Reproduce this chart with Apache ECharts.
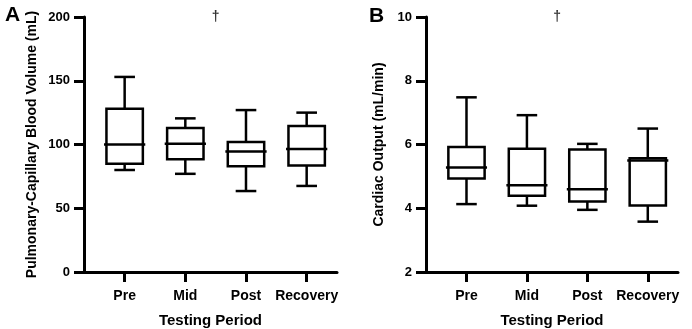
<!DOCTYPE html>
<html>
<head>
<meta charset="utf-8">
<script src="https://cdn.jsdelivr.net/npm/echarts@6/dist/echarts.min.js"></script>
<style>
  html, body { margin: 0; padding: 0; background: #fff; }
  #chart { width: 692px; height: 329px; }
</style>
</head>
<body>
<div id="chart"></div>
<script>
const categories = ['Pre', 'Mid', 'Post', 'Recovery']
const catIndex = [0, 1, 2, 3]

// Panel A - pulmonary-capillary blood volume (mL)
const pcbvMin = [80, 77, 63.5, 67.5]
const pcbvQ1 = [85, 88.5, 83, 83.5]
const pcbvMedian = [100, 100.5, 94.5, 96.5]
const pcbvQ3 = [128, 113, 102, 114.5]
const pcbvMax = [153, 120.5, 127, 125]

// Panel B - cardiac output (mL/min)
const coMin = [4.13, 4.08, 3.95, 3.58]
const coQ1 = [4.93, 4.39, 4.21, 4.09]
const coMedian = [5.28, 4.72, 4.6, 5.5]
const coQ3 = [5.92, 5.87, 5.84, 5.57]
const coMax = [7.48, 6.92, 6.02, 6.5]

const font = 'Arial, "Liberation Sans", sans-serif'

function boxData(mn, q1, md, q3, mx) {
  return catIndex.map(i => [i, mn[i], q1[i], md[i], q3[i], mx[i]])
}

function renderBox(params, api) {
  const x = api.value(0)
  const lo = api.coord([x, api.value(1)])
  const q1 = api.coord([x, api.value(2)])
  const md = api.coord([x, api.value(3)])
  const q3 = api.coord([x, api.value(4)])
  const hi = api.coord([x, api.value(5)])
  const unit = api.size([1, 0])[0]
  const bw = unit * 0.6 // box width
  const cw = unit * 0.34 // whisker cap width
  const mw = unit * 0.68 // median line width
  const cx = q1[0]
  const style = { stroke: '#000', lineWidth: 2.5, fill: null }
  const line = (x1, y1, x2, y2) => ({ type: 'line', shape: { x1, y1, x2, y2 }, style })
  return {
    type: 'group',
    children: [
      { type: 'rect', shape: { x: cx - bw / 2, y: q3[1], width: bw, height: q1[1] - q3[1] }, style },
      line(cx, q3[1], cx, hi[1]),
      line(cx, q1[1], cx, lo[1]),
      line(cx - cw / 2, hi[1], cx + cw / 2, hi[1]),
      line(cx - cw / 2, lo[1], cx + cw / 2, lo[1]),
      line(cx - mw / 2, md[1], cx + mw / 2, md[1])
    ]
  }
}

function xAxisCfg(gridIndex) {
  return {
    type: 'value',
    gridIndex: gridIndex,
    min: -0.67,
    max: 3.5,
    name: 'Testing Period',
    nameLocation: 'middle',
    nameGap: 41,
    nameTextStyle: { fontFamily: font, fontWeight: 'bold', fontSize: 15, color: '#000' },
    axisLine: { onZero: false, lineStyle: { color: '#000', width: 3 } },
    axisTick: { show: true, customValues: catIndex, length: 10, lineStyle: { color: '#000', width: 3 } },
    axisLabel: {
      customValues: catIndex,
      formatter: v => categories[v],
      margin: 17,
      fontFamily: font,
      fontWeight: 'bold',
      fontSize: 14,
      color: '#000'
    },
    splitLine: { show: false }
  }
}

function yAxisCfg(gridIndex, name, min, max, interval, nameGap) {
  return {
    type: 'value',
    gridIndex: gridIndex,
    min: min,
    max: max,
    interval: interval,
    name: name,
    nameLocation: 'middle',
    nameGap: nameGap,
    nameTextStyle: { fontFamily: font, fontWeight: 'bold', fontSize: 14, color: '#000' },
    axisLine: { show: true, onZero: false, lineStyle: { color: '#000', width: 3 } },
    axisTick: { show: true, length: 10, lineStyle: { color: '#000', width: 3 } },
    axisLabel: { margin: 14, fontFamily: font, fontWeight: 'bold', fontSize: 13, color: '#000' },
    splitLine: { show: false }
  }
}

function daggerSeries(axisIndex, y) {
  return {
    type: 'scatter',
    xAxisIndex: axisIndex,
    yAxisIndex: axisIndex,
    symbolSize: 1,
    itemStyle: { color: 'transparent' },
    silent: true,
    label: {
      show: true,
      position: 'inside',
      formatter: '\u2020',
      fontFamily: font,
      fontWeight: 'bold',
      fontSize: 14,
      color: '#000'
    },
    data: [[1.5, y]]
  }
}

const chart = echarts.init(document.getElementById('chart'), null, { renderer: 'canvas' })

chart.setOption({
  animation: false,
  backgroundColor: '#fff',
  title: [
    { text: 'A', left: 0, top: 0, textStyle: { fontFamily: font, fontWeight: 'bold', fontSize: 21, color: '#000' } },
    { text: 'B', left: 364, top: 1, textStyle: { fontFamily: font, fontWeight: 'bold', fontSize: 21, color: '#000' } }
  ],
  grid: [
    { left: 84, right: 355, top: 17, bottom: 57, outerBoundsMode: 'none' },
    { left: 426, right: 14, top: 17, bottom: 57, outerBoundsMode: 'none' }
  ],
  xAxis: [xAxisCfg(0), xAxisCfg(1)],
  yAxis: [
    yAxisCfg(0, 'Pulmonary-Capillary Blood Volume (mL)', 0, 200, 50, 45),
    yAxisCfg(1, 'Cardiac Output (mL/min)', 2, 10, 2, 40)
  ],
  series: [
    {
      type: 'custom',
      xAxisIndex: 0,
      yAxisIndex: 0,
      renderItem: renderBox,
      encode: { x: 0, y: [1, 2, 3, 4, 5] },
      data: boxData(pcbvMin, pcbvQ1, pcbvMedian, pcbvQ3, pcbvMax)
    },
    {
      type: 'custom',
      xAxisIndex: 1,
      yAxisIndex: 1,
      renderItem: renderBox,
      encode: { x: 0, y: [1, 2, 3, 4, 5] },
      data: boxData(coMin, coQ1, coMedian, coQ3, coMax)
    },
    daggerSeries(0, 200),
    daggerSeries(1, 10)
  ]
})
</script>
</body>
</html>
